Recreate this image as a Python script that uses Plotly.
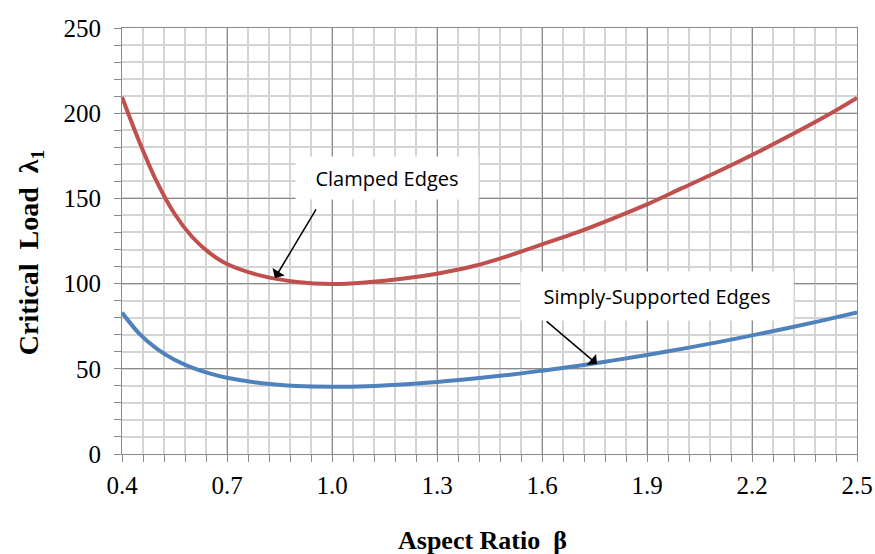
import plotly.graph_objects as go

beta = [0.4, 0.45, 0.5, 0.55, 0.6, 0.65, 0.7, 0.8, 0.9, 1.0, 1.1, 1.2, 1.3,
        1.4, 1.5, 1.6, 1.7, 1.8, 1.9, 2.0, 2.1, 2.2, 2.3, 2.4, 2.5]
clamped = [209.5, 183, 159.5, 141, 127.5, 118, 111.5, 104.5, 101, 99.8, 100.8,
           102.8, 105.8, 110, 116, 123, 130, 138, 146.5, 156, 165.5, 175.5,
           186, 197, 209]
simply = [83.0, 70.5, 61.7, 55.3, 50.7, 47.3, 44.7, 41.5, 39.9, 39.5, 39.8,
          40.8, 42.3, 44.1, 46.3, 48.9, 51.7, 54.8, 58.1, 61.7, 65.5, 69.6,
          73.8, 78.3, 83.0]
x_ticks = [0.4, 0.7, 1.0, 1.3, 1.6, 1.9, 2.2, 2.5]
x_tick_labels = ["0.4", "0.7", "1.0", "1.3", "1.6", "1.9", "2.2", "2.5"]
y_ticks = [0, 50, 100, 150, 200, 250]

fig = go.Figure()
fig.add_trace(go.Scatter(x=beta, y=clamped, mode="lines", name="Clamped Edges",
                         line=dict(color="#C0504D", width=4, shape="spline", smoothing=1.0)))
fig.add_trace(go.Scatter(x=beta, y=simply, mode="lines", name="Simply-Supported Edges",
                         line=dict(color="#4F81BD", width=4, shape="spline", smoothing=1.0)))

grid_major = "#8a8a8a"
grid_minor = "#d4d4d4"
tick_font = dict(family="Liberation Serif, Times New Roman, serif", size=25, color="black")

fig.update_xaxes(range=[0.4, 2.5], tickvals=x_ticks, ticktext=x_tick_labels,
                 showgrid=True, gridcolor=grid_major, gridwidth=1,
                 showline=True, linecolor=grid_major, linewidth=1, mirror=True,
                 ticks="outside", ticklen=7, tickcolor=grid_major,
                 tickfont=tick_font, ticklabelstandoff=2, zeroline=False, automargin=False,
                 minor=dict(dtick=0.06, tick0=0.4, showgrid=True, gridcolor=grid_minor,
                            gridwidth=1.5, ticks="outside", ticklen=7, tickcolor=grid_major))
fig.update_yaxes(range=[0, 250], tickvals=y_ticks,
                 showgrid=True, gridcolor=grid_major, gridwidth=1,
                 showline=True, linecolor=grid_major, linewidth=1, mirror=True,
                 ticks="outside", ticklen=7, tickcolor=grid_major,
                 tickfont=tick_font, ticklabelstandoff=8, zeroline=False, automargin=False,
                 minor=dict(dtick=10, showgrid=True, gridcolor=grid_minor,
                            gridwidth=1.5, ticks="outside", ticklen=7, tickcolor=grid_major))

label_font = dict(family="Open Sans, Noto Sans, sans-serif", size=20, color="black")
title_font = dict(family="Liberation Serif, Times New Roman, serif", size=28, color="black")

annotations = [
    # text boxes
    dict(x=1.157, y=162, xref="x", yref="y", text="Clamped Edges", showarrow=False,
         bgcolor="white", width=180, height=40, font=label_font),
    dict(x=1.929, y=93, xref="x", yref="y", text="Simply-Supported Edges", showarrow=False,
         bgcolor="white", width=270, height=46, font=label_font),
    # arrows
    dict(x=0.837, y=103.3, xref="x", yref="y", ax=0.957, ay=144.4, axref="x", ayref="y",
         text="", showarrow=True, arrowhead=1, arrowsize=1.6, arrowwidth=1.5, arrowcolor="black"),
    dict(x=1.757, y=52.8, xref="x", yref="y", ax=1.609, ay=78.6, axref="x", ayref="y",
         text="", showarrow=True, arrowhead=1, arrowsize=1.6, arrowwidth=1.5, arrowcolor="black"),
    # axis titles
    dict(x=-0.125, y=0.474, xref="paper", yref="paper", text="<b>Critical\u00a0\u00a0Load\u00a0\u00a0λ<sub>1</sub></b>",
         textangle=-90, showarrow=False, font=title_font, xanchor="center", yanchor="middle"),
    dict(x=0.491, y=-0.202, xref="paper", yref="paper", text="<b>Aspect Ratio\u00a0\u00a0β</b>",
         showarrow=False, font=dict(title_font, size=26), xanchor="center", yanchor="middle"),
]

fig.update_layout(width=875, height=554, showlegend=False,
                  margin=dict(l=122, r=18, t=28, b=100),
                  plot_bgcolor="white", paper_bgcolor="white",
                  annotations=annotations)

fig.write_html("out.html")
